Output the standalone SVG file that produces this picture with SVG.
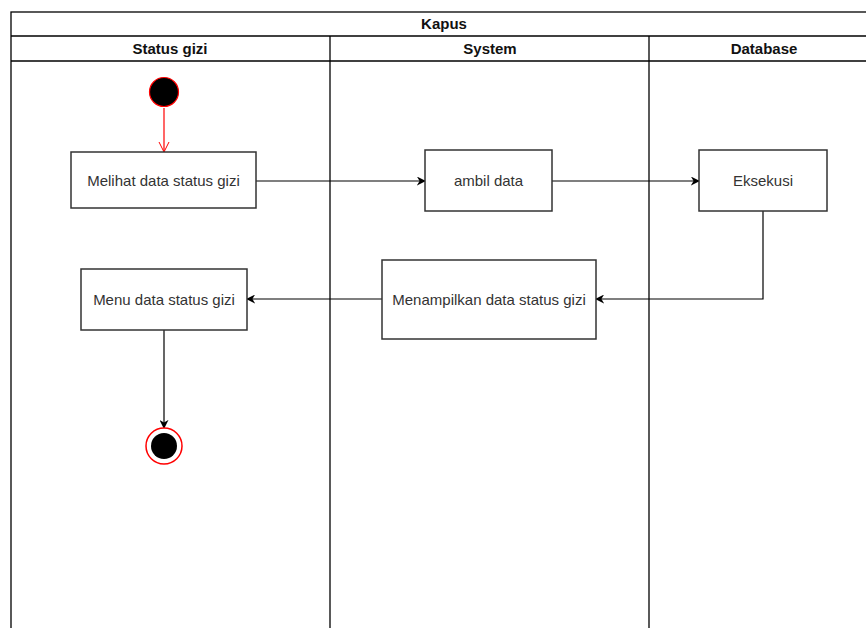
<svg xmlns="http://www.w3.org/2000/svg" width="866" height="628" viewBox="0 0 866 628">
  <defs>
    <marker id="arrow" viewBox="0 0 10 10" refX="9" refY="5" markerWidth="9" markerHeight="9" markerUnits="userSpaceOnUse" orient="auto">
      <path d="M0,0 L10,5 L0,10 L3,5 Z" fill="#000"/>
    </marker>
    <marker id="openArrow" viewBox="0 0 10 10" refX="10" refY="5" markerWidth="10" markerHeight="12" markerUnits="userSpaceOnUse" orient="auto">
      <path d="M0,0 L10,5 L0,10" fill="none" stroke="#ff0000" stroke-width="1"/>
    </marker>
  </defs>
  <style>
    .frame { fill: none; stroke: #000; stroke-width: 1.3; }
    .head { font-family: "Liberation Sans", Arial, sans-serif; font-size: 15px; font-weight: bold; fill: #111; text-anchor: middle; }
    .box { fill: #fff; stroke: #333; stroke-width: 1.5; }
    .label { font-family: "Liberation Sans", Arial, sans-serif; font-size: 15px; fill: #333; text-anchor: middle; dominant-baseline: central; }
    .edge { fill: none; stroke: #000; stroke-width: 1.2; }
  </style>
  <rect width="866" height="628" fill="#fff"/>

  <!-- Pool and lanes -->
  <g id="pool">
    <rect class="frame" x="11" y="12" width="866" height="630"/>
    <line class="frame" x1="11" y1="36" x2="877" y2="36"/>
    <line class="frame" x1="11" y1="61" x2="877" y2="61"/>
    <line class="frame" x1="330" y1="36" x2="330" y2="640"/>
    <line class="frame" x1="649" y1="36" x2="649" y2="640"/>
    <text class="head" x="444" y="29">Kapus</text>
    <text class="head" x="170" y="54">Status gizi</text>
    <text class="head" x="490" y="54">System</text>
    <text class="head" x="764" y="54">Database</text>
  </g>

  <!-- Connectors -->
  <g id="connectors">
    <line x1="164" y1="108" x2="164" y2="152" stroke="#ff0000" stroke-width="1.2" marker-end="url(#openArrow)"/>
    <line class="edge" x1="256" y1="181" x2="425" y2="181" marker-end="url(#arrow)"/>
    <line class="edge" x1="552" y1="181" x2="699" y2="181" marker-end="url(#arrow)"/>
    <polyline class="edge" points="763,211 763,299 596,299" marker-end="url(#arrow)"/>
    <line class="edge" x1="382" y1="299" x2="247" y2="299" marker-end="url(#arrow)"/>
    <line class="edge" x1="164" y1="330" x2="164" y2="428" marker-end="url(#arrow)"/>
  </g>

  <!-- Nodes -->
  <g id="start">
    <circle cx="164" cy="92" r="14.5" fill="#000" stroke="#ff0000" stroke-width="1.2"/>
  </g>
  <g id="melihat">
    <rect class="box" x="71" y="152" width="185" height="56"/>
    <text class="label" x="163.5" y="180">Melihat data status gizi</text>
  </g>
  <g id="ambil">
    <rect class="box" x="425" y="150" width="127" height="61"/>
    <text class="label" x="488.5" y="180.5">ambil data</text>
  </g>
  <g id="eksekusi">
    <rect class="box" x="699" y="150" width="128" height="61"/>
    <text class="label" x="763" y="180.5">Eksekusi</text>
  </g>
  <g id="menampilkan">
    <rect class="box" x="382" y="260" width="214" height="79"/>
    <text class="label" x="489" y="299">Menampilkan data status gizi</text>
  </g>
  <g id="menu">
    <rect class="box" x="81" y="269" width="166" height="61"/>
    <text class="label" x="164" y="299">Menu data status gizi</text>
  </g>
  <g id="end">
    <circle cx="164" cy="446" r="18" fill="#fff" stroke="#ff0000" stroke-width="1.5"/>
    <circle cx="164" cy="446" r="13" fill="#000"/>
  </g>
</svg>
